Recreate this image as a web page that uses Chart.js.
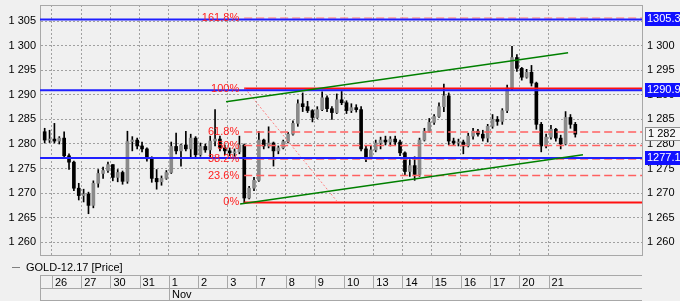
<!DOCTYPE html>
<html>
<head>
<meta charset="utf-8">
<script src="https://cdn.jsdelivr.net/npm/chart.js@4.4.0/dist/chart.umd.min.js"></script>
<style>
    html, body { margin: 0; padding: 0; background: #f0f0f0; }
    #wrap { width: 680px; height: 301px; }
</style>
</head>
<body>
<div id="wrap"><canvas id="chart"></canvas></div>
<script>
// trading days on the axis; day index 0 = Oct 26 (Oct 25 is cut off at the left)
let dayLabels = ["26", "27", "30", "31", "1", "2", "3", "7", "8", "9", "10", "13", "14", "15", "16", "17", "20", "21"];
let monthLabel = "Nov";
let monthStartDay = 4;
let candlesPerDay = 6;
let firstCandle = 4; // Oct 25 only shows its last two candles

let openPrices = [
    1282.5, 1280.8,
    1281.0, 1280.6, 1281.2, 1277.6, 1276.3, 1271.0,
    1269.5, 1269.8, 1267.5, 1272.0, 1274.0, 1274.6,
    1275.8, 1273.2, 1274.2, 1272.4, 1280.5, 1280.8,
    1279.6, 1279.0, 1277.0, 1273.0, 1272.3, 1273.0,
    1274.2, 1279.5, 1278.6, 1279.8, 1279.0, 1281.2,
    1277.8, 1279.5, 1278.8, 1280.6, 1281.0, 1279.2,
    1278.6, 1278.2, 1278.4, 1279.8, 1269.0, 1271.0,
    1272.6, 1280.8, 1279.6, 1280.2, 1278.6, 1279.2,
    1280.5, 1282.0, 1284.2, 1288.2, 1287.6, 1286.8,
    1285.4, 1287.0, 1289.4, 1287.2, 1286.4, 1289.0,
    1288.4, 1286.8, 1287.4, 1287.0, 1279.0, 1277.4,
    1278.8, 1280.2, 1280.8, 1280.4, 1281.0, 1280.4,
    1278.2, 1274.4, 1275.6, 1273.8, 1280.8, 1282.6,
    1284.4, 1285.6, 1287.6, 1289.8, 1280.6, 1280.2,
    1280.4, 1279.6, 1281.6, 1282.6, 1282.0, 1281.2,
    1283.6, 1285.0, 1284.6, 1286.8, 1291.4, 1297.6,
    1295.4, 1293.6, 1294.6, 1292.4, 1284.0, 1279.6,
    1281.4, 1283.0, 1281.2, 1280.0, 1285.4, 1284.0
];
let highPrices = [
    1283.2, 1282.8,
    1284.2, 1281.5, 1282.5, 1278.0, 1276.5, 1272.0,
    1270.8, 1270.2, 1272.5, 1274.8, 1275.3, 1276.3,
    1275.8, 1274.8, 1274.5, 1282.6, 1281.5, 1281.2,
    1280.4, 1279.2, 1277.4, 1274.8, 1273.5, 1274.6,
    1280.4, 1282.2, 1280.0, 1282.6, 1282.0, 1281.5,
    1280.2, 1280.0, 1281.6, 1287.0, 1281.6, 1279.8,
    1279.2, 1279.0, 1281.6, 1280.0, 1271.4, 1273.2,
    1282.6, 1281.0, 1283.5, 1280.4, 1279.6, 1280.8,
    1282.4, 1284.7, 1289.0, 1290.4, 1288.7, 1287.0,
    1287.6, 1290.6, 1289.8, 1287.6, 1290.2, 1290.7,
    1288.8, 1288.2, 1288.0, 1287.6, 1279.6, 1279.5,
    1280.8, 1281.4, 1281.6, 1281.5, 1281.6, 1280.8,
    1278.4, 1276.8, 1277.4, 1281.2, 1283.2, 1285.2,
    1286.0, 1288.4, 1292.2, 1290.4, 1281.2, 1281.0,
    1280.8, 1282.2, 1283.2, 1283.0, 1282.8, 1284.0,
    1286.0, 1285.6, 1287.2, 1292.0, 1299.9, 1298.2,
    1295.6, 1295.2, 1296.0, 1292.6, 1284.4, 1282.0,
    1283.8, 1283.2, 1281.8, 1286.6, 1286.0, 1284.4
];
let lowPrices = [
    1280.2, 1280.3,
    1280.2, 1280.0, 1277.0, 1274.8, 1270.5, 1268.6,
    1268.2, 1265.8, 1267.0, 1271.2, 1273.0, 1274.2,
    1272.5, 1272.3, 1271.8, 1272.0, 1278.6, 1279.0,
    1278.4, 1276.5, 1272.2, 1270.8, 1271.6, 1272.8,
    1274.0, 1278.0, 1275.5, 1278.6, 1277.4, 1277.0,
    1277.5, 1278.3, 1277.2, 1279.6, 1278.6, 1277.8,
    1277.6, 1277.5, 1278.0, 1268.0, 1268.8, 1270.5,
    1272.4, 1279.0, 1279.2, 1275.5, 1278.0, 1279.0,
    1280.2, 1281.8, 1283.6, 1286.6, 1286.4, 1284.5,
    1285.2, 1286.8, 1286.6, 1285.0, 1286.2, 1288.0,
    1286.2, 1286.4, 1286.5, 1278.6, 1276.4, 1277.0,
    1278.4, 1279.0, 1279.8, 1279.6, 1279.8, 1277.6,
    1273.6, 1273.4, 1272.6, 1273.4, 1280.6, 1282.4,
    1284.0, 1285.4, 1286.6, 1279.8, 1279.8, 1279.6,
    1278.0, 1279.4, 1281.0, 1281.6, 1280.6, 1280.4,
    1283.2, 1283.8, 1284.0, 1286.4, 1291.0, 1294.8,
    1293.0, 1293.4, 1291.8, 1283.0, 1278.4, 1279.2,
    1281.0, 1280.6, 1279.0, 1279.8, 1283.2, 1281.4
];
let closePrices = [
    1280.8, 1281.0,
    1280.6, 1281.2, 1277.6, 1276.3, 1271.0, 1269.5,
    1269.8, 1267.5, 1272.0, 1274.0, 1274.6, 1275.8,
    1273.2, 1274.2, 1272.4, 1280.5, 1280.8, 1279.6,
    1279.0, 1277.0, 1273.0, 1272.3, 1273.0, 1274.2,
    1279.5, 1278.6, 1279.8, 1279.0, 1281.2, 1277.8,
    1279.5, 1278.8, 1280.6, 1281.0, 1279.2, 1278.6,
    1278.2, 1278.4, 1279.8, 1269.0, 1271.0, 1272.6,
    1280.8, 1279.6, 1280.2, 1278.6, 1279.2, 1280.5,
    1282.0, 1284.2, 1288.2, 1287.6, 1286.8, 1285.4,
    1287.0, 1289.4, 1287.2, 1286.4, 1289.0, 1288.4,
    1286.8, 1287.4, 1287.0, 1279.0, 1277.4, 1278.8,
    1280.2, 1280.8, 1280.4, 1281.0, 1280.4, 1278.2,
    1274.4, 1275.6, 1273.8, 1280.8, 1282.6, 1284.4,
    1285.6, 1287.6, 1289.8, 1280.6, 1280.2, 1280.4,
    1279.6, 1281.6, 1282.6, 1282.0, 1281.2, 1283.6,
    1285.0, 1284.6, 1286.8, 1291.4, 1297.6, 1295.4,
    1293.6, 1294.6, 1292.4, 1284.0, 1279.6, 1281.4,
    1283.0, 1281.2, 1280.0, 1285.4, 1284.0, 1282.0
];

// horizontal price lines (blue) and fibonacci retracement
let bluePrices = [1305.35, 1290.95, 1277.13];
let fibLabels = ["0%", "23.6%", "38.2%", "50%", "61.8%", "100%", "161.8%"];
let fibPrices = [1268.1, 1273.58, 1276.96, 1279.7, 1282.44, 1291.3, 1305.64];
let fibStartDay = 6.58;
let fibDiagonal = [{x: 6.61, y: 1291.3}, {x: 9.79, y: 1268.1}];

// trend channel (day index, price)
let channelUpper = [{x: 5.96, y: 1288.6}, {x: 17.67, y: 1298.6}];
let channelLower = [{x: 6.44, y: 1267.8}, {x: 18.18, y: 1277.8}];

let lastPrice = 1282;
let xMin = -0.41, xMax = 20.2;
let yMin = 1257.4, yMax = 1308.3;

const fmt = v => String(v).replace(/\B(?=(\d{3})+(?!\d))/g, ' ');
const FONT = '"Liberation Sans", Arial, sans-serif';

let candleX = openPrices.map((o, i) => -1 + (i + firstCandle + 0.5) / candlesPerDay);
let wickData = candleX.map((x, i) => ({x: x, y: [lowPrices[i], highPrices[i]]}));
let bodyData = candleX.map((x, i) => ({x: x, y: [openPrices[i], closePrices[i]]}));

let line = (data, color, width, dash, order) => ({
    type: 'line',
    data: data,
    borderColor: color,
    borderWidth: width,
    borderDash: dash,
    pointRadius: 0,
    fill: false,
    tension: 0,
    order: order
});

let datasets = [];
datasets.push({
    type: 'bar', data: wickData, backgroundColor: '#000', barThickness: 1,
    grouped: false, order: 11
});
datasets.push({
    type: 'bar', data: bodyData, grouped: false, barThickness: 3, minBarLength: 1, order: 10,
    backgroundColor: c => closePrices[c.dataIndex] >= openPrices[c.dataIndex] ? '#8a8a8a' : '#000'
});
fibPrices.forEach((p, i) => {
    let solid = fibLabels[i] == "0%" || fibLabels[i] == "100%";
    let color = solid ? '#ff1010' : (fibLabels[i] == "161.8%" ? '#ff9a9a' : '#ff6060');
    datasets.push(line([{x: fibStartDay, y: p}, {x: xMax, y: p}], color, solid ? 2 : 1.5, solid ? [] : [8, 4], 5));
});
datasets.push(line(fibDiagonal, '#ff8080', 1, [2, 2], 4));
bluePrices.forEach(p => {
    datasets.push(line([{x: xMin, y: p}, {x: xMax, y: p}], '#2020ff', 2, [], 3));
});
datasets.push(line(channelUpper, '#008000', 1.5, [], 2));
datasets.push(line(channelLower, '#008000', 1.5, [], 2));

let extras = {
    id: 'extras',
    afterDraw(chart) {
        let c = chart.ctx, xs = chart.scales.x, ys = chart.scales.y, a = chart.chartArea;
        c.save();
        c.font = '11px ' + FONT;
        c.textBaseline = 'middle';

        // top frame line
        c.strokeStyle = '#a8a8a8';
        c.lineWidth = 1;
        c.beginPath();
        c.moveTo(a.left, a.top + 0.5); c.lineTo(a.right, a.top + 0.5);
        c.stroke();

        // fibonacci labels
        c.fillStyle = '#ff2020';
        c.textAlign = 'right';
        fibLabels.forEach((t, i) => {
            c.fillText(t, xs.getPixelForValue(fibStartDay) - 5, ys.getPixelForValue(fibPrices[i]));
        });

        // price boxes on right axis
        c.textAlign = 'left';
        bluePrices.forEach(p => {
            let py = Math.round(ys.getPixelForValue(p));
            c.fillStyle = '#1010ff';
            c.fillRect(a.right + 3, py - 7, 40, 14);
            c.fillStyle = '#fff';
            c.fillText(p.toFixed(2), a.right + 5, py);
        });
        let ly = Math.round(ys.getPixelForValue(lastPrice));
        c.fillStyle = '#f8f8f8';
        c.fillRect(a.right + 3, ly - 7, 40, 14);
        c.strokeStyle = '#909090';
        c.strokeRect(a.right + 3.5, ly - 6.5, 40, 13);
        c.fillStyle = '#000';
        c.fillText(fmt(lastPrice), a.right + 6, ly);

        // legend
        c.strokeStyle = '#808080';
        c.beginPath();
        c.moveTo(12, 267.5); c.lineTo(20, 267.5);
        c.stroke();
        c.fillStyle = '#000';
        c.fillText("GOLD-12.17 [Price]", 26, 268);

        // date table under the chart
        c.strokeStyle = '#a8a8a8';
        c.beginPath();
        [275.5, 288.5, 300.5].forEach(yy => { c.moveTo(a.left, yy); c.lineTo(a.right, yy); });
        c.moveTo(a.left + 0.5, 275); c.lineTo(a.left + 0.5, 301);
        dayLabels.forEach((d, i) => {
            let px = Math.round(xs.getPixelForValue(i)) + 0.5;
            c.moveTo(px, 275); c.lineTo(px, 288);
        });
        let mx = Math.round(xs.getPixelForValue(monthStartDay)) + 0.5;
        c.moveTo(mx, 288); c.lineTo(mx, 301);
        c.stroke();
        c.fillStyle = '#000';
        c.fillText(monthLabel, mx + 2.5, 295);
        c.restore();
    }
};

let yTicks = {
    stepSize: 5,
    includeBounds: false,
    color: '#000',
    font: {family: FONT, size: 11},
    callback: v => fmt(v)
};

let chart = new Chart('chart', {
    type: 'bar',
    data: { datasets: datasets },
    options: {
        responsive: true,
        maintainAspectRatio: false,
        animation: false,
        devicePixelRatio: 1,
        layout: { padding: { top: 5 } },
        plugins: { legend: { display: false }, tooltip: { enabled: false } },
        scales: {
            x: {
                type: 'linear', min: xMin, max: xMax, offset: false,
                grid: { offset: false, color: '#a0a0a0', drawTicks: false },
                border: { color: '#a8a8a8', dash: [2, 2] },
                afterBuildTicks: s => { s.ticks = dayLabels.map((d, i) => ({value: i})); },
                afterFit: s => { s.height = 46; s.paddingLeft = 0; s.paddingRight = 0; },
                ticks: {
                    autoSkip: false, maxRotation: 0, align: 'start', labelOffset: 3, padding: 21,
                    color: '#000', font: {family: FONT, size: 11},
                    callback: v => dayLabels[v]
                }
            },
            y: {
                position: 'left', min: yMin, max: yMax, beginAtZero: false,
                grid: { color: '#a0a0a0', drawTicks: false },
                border: { color: '#a8a8a8', dash: [2, 2] },
                afterFit: s => { s.width = 40; s.paddingTop = 0; s.paddingBottom = 0; },
                ticks: Object.assign({ padding: 4 }, yTicks)
            },
            y2: {
                position: 'right', min: yMin, max: yMax, beginAtZero: false,
                grid: { drawOnChartArea: false, drawTicks: false },
                border: { color: '#a8a8a8' },
                afterFit: s => { s.width = 38; s.paddingTop = 0; s.paddingBottom = 0; },
                ticks: Object.assign({ padding: 5 }, yTicks)
            }
        }
    },
    plugins: [extras]
});
</script>
</body>
</html>
